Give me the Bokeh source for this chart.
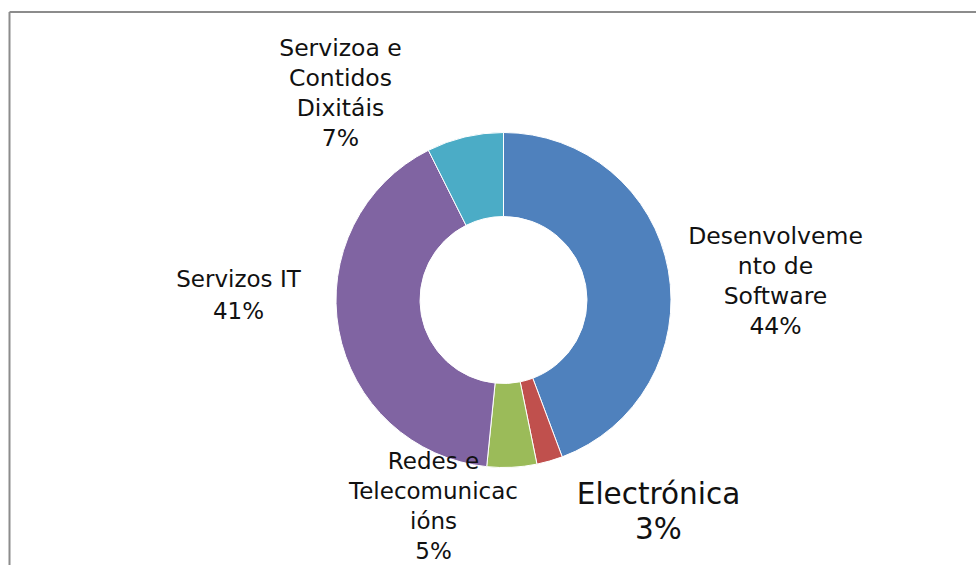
import math
from bokeh.plotting import figure
from bokeh.models import Range1d, ColumnDataSource
from bokeh.core.properties import value
from bokeh.embed import file_html
from bokeh.resources import INLINE

# ---- data ----
categories = ["Desenvolvemento de Software", "Electrónica",
              "Redes e Telecomunicacións", "Servizos IT",
              "Servizoa e Contidos Dixitáis"]
shares = [44.3, 2.5, 4.8, 41.0, 7.4]
pct_labels = ["44%", "3%", "5%", "41%", "7%"]
label_lines = [["Desenvolveme", "nto de", "Software"],
               ["Electrónica"],
               ["Redes e", "Telecomunicac", "ións"],
               ["Servizos IT"],
               ["Servizoa e", "Contidos", "Dixitáis"]]
colors = ["#4F81BD", "#C0504D", "#9BBB59", "#8064A2", "#4BACC6"]

# ---- layout (pixels relative to donut centre, y up) ----
W, H = 976, 565
CX, CY = 503, 299.5          # centre offset from figure left / top
R_OUT, R_IN = 167.5, 83.5
label_anchor = [(272, 19.5), (155, -211), (-70, -206), (-265, 5), (-163, 207)]
label_size = ["23.5px", "29.5px", "23px", "23px", "23.5px"]
line_step = [30, 35, 30, 32, 30]
FONT = "DejaVu Sans"

p = figure(width=W, height=H, output_backend="svg", toolbar_location=None,
           x_range=Range1d(-CX, W - CX), y_range=Range1d(CY - H, CY),
           x_axis_location=None, y_axis_location=None, min_border=0)
p.grid.visible = False
p.outline_line_color = None
p.background_fill_color = "white"

total = sum(shares)
starts, ends = [], []
cum = 0.0
for v in shares:
    starts.append(math.pi / 2 - 2 * math.pi * cum / total)
    cum += v
    ends.append(math.pi / 2 - 2 * math.pi * cum / total)

src = ColumnDataSource(dict(start=starts, end=ends, color=colors, cat=categories))
p.annular_wedge(x=0, y=0, inner_radius=R_IN, outer_radius=R_OUT,
                start_angle="start", end_angle="end", direction="clock",
                fill_color="color", line_color="white", line_width=1, source=src)

# labels
for lines, pct, (ax, ay), fs, step in zip(label_lines, pct_labels, label_anchor,
                                           label_size, line_step):
    all_lines = lines + [pct]
    n = len(all_lines)
    ys = [ay + step * ((n - 1) / 2 - i) for i in range(n)]
    p.text(x=[ax] * n, y=ys, text=all_lines, text_align="center",
           text_baseline="middle", text_font=value(FONT),
           text_font_size=fs, text_color="#111111")

# chart-area border (left and top edges visible)
left_x = -CX + 9
top_y = CY - 11.5
p.segment(x0=[left_x, left_x], y0=[CY - H, top_y], x1=[left_x, W - CX],
          y1=[top_y, top_y], line_color="#8c8c8c", line_width=2)

open("out.html", "w").write(file_html(p, INLINE))
